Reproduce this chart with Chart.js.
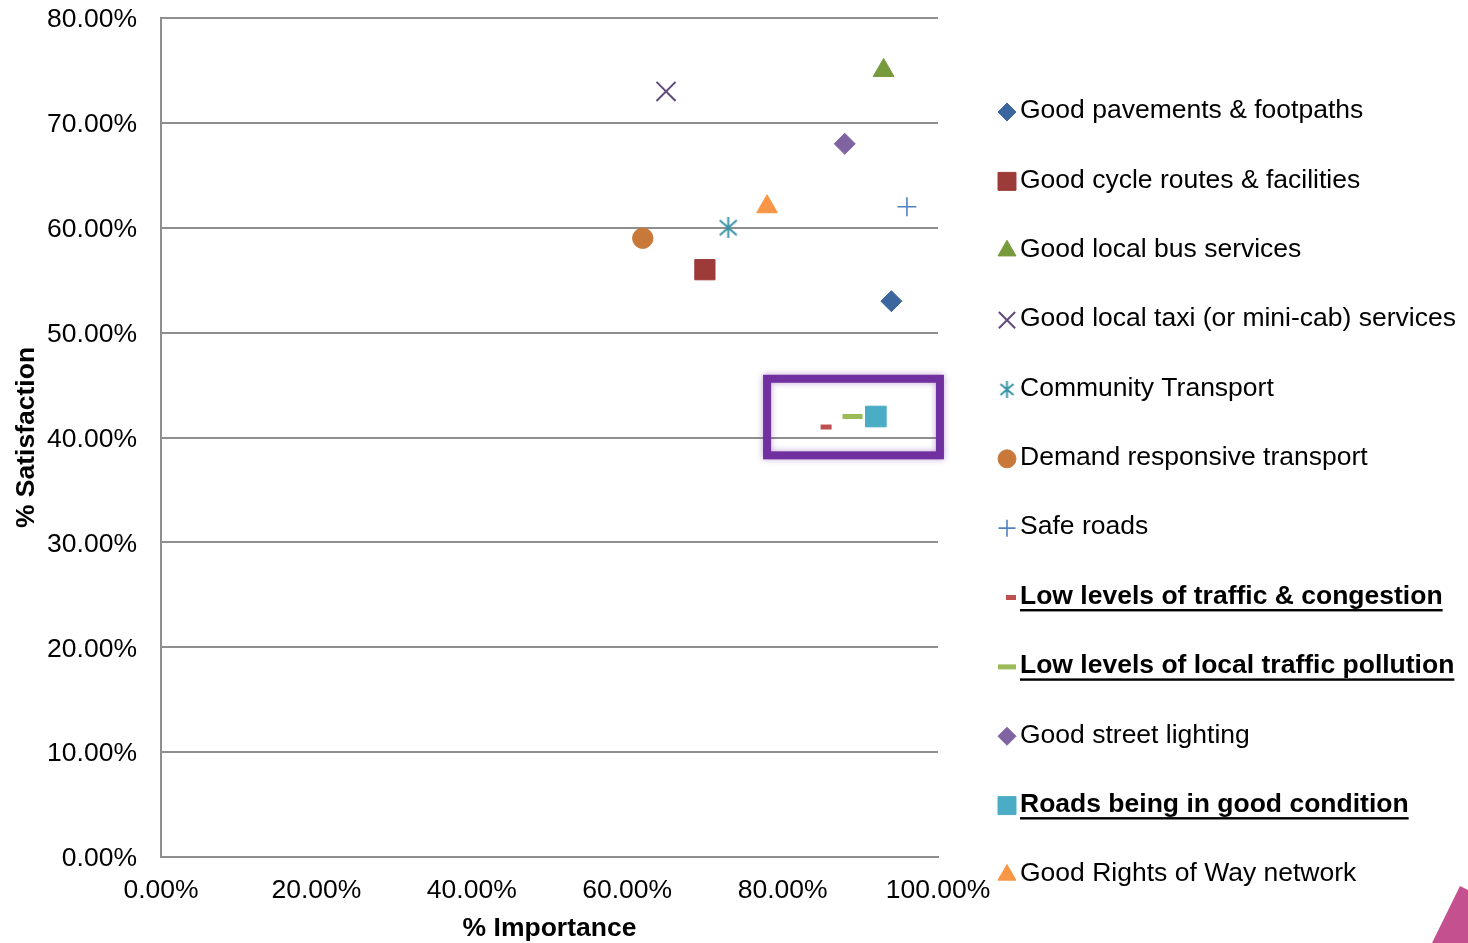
<!DOCTYPE html>
<html>
<head>
<meta charset="utf-8">
<title>Importance vs Satisfaction</title>
<script src="https://cdn.jsdelivr.net/npm/chart.js@4.4.1/dist/chart.umd.min.js"></script>
<style>
  html, body { margin: 0; padding: 0; background: #fff; }
  canvas { display: block; }
</style>
</head>
<body>
<canvas id="chart" width="1468" height="943"></canvas>
<script>
// data (percent)
const categories = [
  "Good pavements & footpaths",
  "Good cycle routes & facilities",
  "Good local bus services",
  "Good local taxi (or mini-cab) services",
  "Community Transport",
  "Demand responsive transport",
  "Safe roads",
  "Low levels of traffic & congestion",
  "Low levels of local traffic pollution",
  "Good street lighting",
  "Roads being in good condition",
  "Good Rights of Way network"
];
const importance   = [94, 70, 93, 65, 73, 62, 96, 85.6, 89, 88, 92, 78];
const satisfaction = [53, 56, 75, 73, 60, 59, 62, 41, 42, 68, 42, 62];
const highlighted  = ["Low levels of traffic & congestion", "Low levels of local traffic pollution", "Roads being in good condition"];
const xTicks = [0, 20, 40, 60, 80, 100];
const yTicks = [0, 10, 20, 30, 40, 50, 60, 70, 80];
// purple highlight box, in axis units
const boxX = [78, 100.25];
const boxY = [38.3, 45.6];

// marker styling
const colors = ["#3C679E", "#9C3B38", "#779A3C", "#5F4A7B", "#3A93A8", "#C8793A",
                "#5282C0", "#C0504D", "#9BBB59", "#8064A2", "#4BACC6", "#F79646"];
const shapes = ["rectRot", "rect", "triangle", "crossRot", "asterisk", "circle",
                "cross", "line", "line", "rectRot", "rect", "triangle"];
const sizes  = [10.5, 14.3, 12, 13.5, 10, 10.2, 9.5, 5.5, 10, 10.5, 14.6, 12];
const legendSizes = [9, 12.7, 10.4, 11.5, 8.5, 9, 8.5, 5, 9, 9, 12.7, 10.4];
const widths = [1, 1, 1, 2, 2, 1, 1.6, 5, 5, 1, 1, 1];

function asterisk(size, color) {
  const c = document.createElement("canvas");
  c.width = size; c.height = size;
  const g = c.getContext("2d");
  g.strokeStyle = color; g.lineWidth = 2;
  g.beginPath();
  g.moveTo(size / 2, 0); g.lineTo(size / 2, size);
  g.moveTo(2, 3); g.lineTo(size - 2, size - 3);
  g.moveTo(size - 2, 3); g.lineTo(2, size - 3);
  g.stroke();
  return c;
}
const starBig = asterisk(21, colors[4]);
const starSmall = asterisk(17, colors[4]);

const FONT = "'Liberation Sans', Arial, sans-serif";
Chart.defaults.font.family = FONT;
Chart.defaults.font.size = 26.5;
Chart.defaults.color = "#000";

const datasets = categories.map((name, i) => ({
  label: name,
  data: [{ x: importance[i], y: satisfaction[i] }],
  pointStyle: shapes[i] === "asterisk" ? starBig : shapes[i],
  pointRadius: sizes[i],
  backgroundColor: colors[i],
  borderColor: colors[i],
  borderWidth: widths[i]
}));

const extras = {
  id: "extras",
  afterDraw(chart) {
    const ctx = chart.ctx;
    const xs = chart.scales.x, ys = chart.scales.y;

    // highlight box
    ctx.save();
    ctx.strokeStyle = "#7030A0";
    ctx.lineWidth = 8;
    ctx.shadowColor = "rgba(112,48,160,0.45)";
    ctx.shadowBlur = 6;
    const l = xs.getPixelForValue(boxX[0]), r = xs.getPixelForValue(boxX[1]);
    const t = ys.getPixelForValue(boxY[1]), b = ys.getPixelForValue(boxY[0]);
    ctx.strokeRect(l, t, r - l, b - t);
    ctx.restore();

    // legend on the right
    ctx.save();
    categories.forEach((name, i) => {
      const cy = 112 + i * 69.36;
      const mx = shapes[i] === "line" ? 1016 - legendSizes[i] : 1007;
      ctx.fillStyle = colors[i];
      ctx.strokeStyle = colors[i];
      ctx.lineWidth = widths[i];
      if (shapes[i] === "asterisk") {
        ctx.drawImage(starSmall, mx - 8.5, cy - 8.5);
      } else {
        Chart.helpers.drawPoint(ctx, { pointStyle: shapes[i], radius: legendSizes[i], rotation: 0, borderWidth: widths[i] }, mx, cy);
      }
      const bold = highlighted.includes(name);
      ctx.font = (bold ? "bold " : "") + "26.5px " + FONT;
      ctx.fillStyle = "#000";
      ctx.textBaseline = "middle";
      ctx.textAlign = "left";
      ctx.fillText(name, 1020, cy - 1);
      if (bold) {
        const w = ctx.measureText(name).width;
        ctx.fillRect(1020, cy + 11.5, w, 2.4);
      }
    });
    ctx.restore();

    // slide decoration in the corner
    ctx.save();
    ctx.fillStyle = "#C5508F";
    ctx.beginPath();
    ctx.moveTo(1460, 886);
    ctx.lineTo(1468, 890);
    ctx.lineTo(1468, 943);
    ctx.lineTo(1432, 943);
    ctx.closePath();
    ctx.fill();
    ctx.restore();
  }
};

new Chart(document.getElementById("chart"), {
  type: "scatter",
  data: { datasets },
  options: {
    responsive: false,
    animation: false,
    events: [],
    layout: { padding: { top: 18, right: 530, bottom: 0, left: 0 } },
    plugins: {
      legend: { display: false },
      tooltip: { enabled: false }
    },
    scales: {
      x: {
        type: "linear",
        min: xTicks[0],
        max: xTicks[xTicks.length - 1],
        afterBuildTicks: (s) => { s.ticks = xTicks.map(v => ({ value: v })); },
        afterFit: (s) => { s.height = 86; s.paddingLeft = 0; s.paddingRight = 0; },
        grid: { display: false, drawTicks: false },
        border: { display: true, color: "#8E8E8E", width: 2 },
        ticks: { padding: 18, callback: (v) => v.toFixed(2) + "%" },
        title: { display: true, text: "% Importance", font: { weight: "bold", size: 26.5, lineHeight: 1 }, padding: { top: 0, bottom: 1 } }
      },
      y: {
        type: "linear",
        min: yTicks[0],
        max: yTicks[yTicks.length - 1],
        afterBuildTicks: (s) => { s.ticks = yTicks.map(v => ({ value: v })); },
        afterFit: (s) => { s.width = 161; s.paddingTop = 0; s.paddingBottom = 0; },
        grid: { color: "#8E8E8E", lineWidth: 2, drawTicks: false },
        border: { display: true, color: "#8E8E8E", width: 2 },
        ticks: { padding: 24, labelOffset: 2, callback: (v) => v.toFixed(2) + "%" },
        title: { display: true, text: "% Satisfaction", font: { weight: "bold", size: 26.5 }, padding: { top: 11, bottom: 0 } }
      }
    }
  },
  plugins: [extras]
});
</script>
</body>
</html>
